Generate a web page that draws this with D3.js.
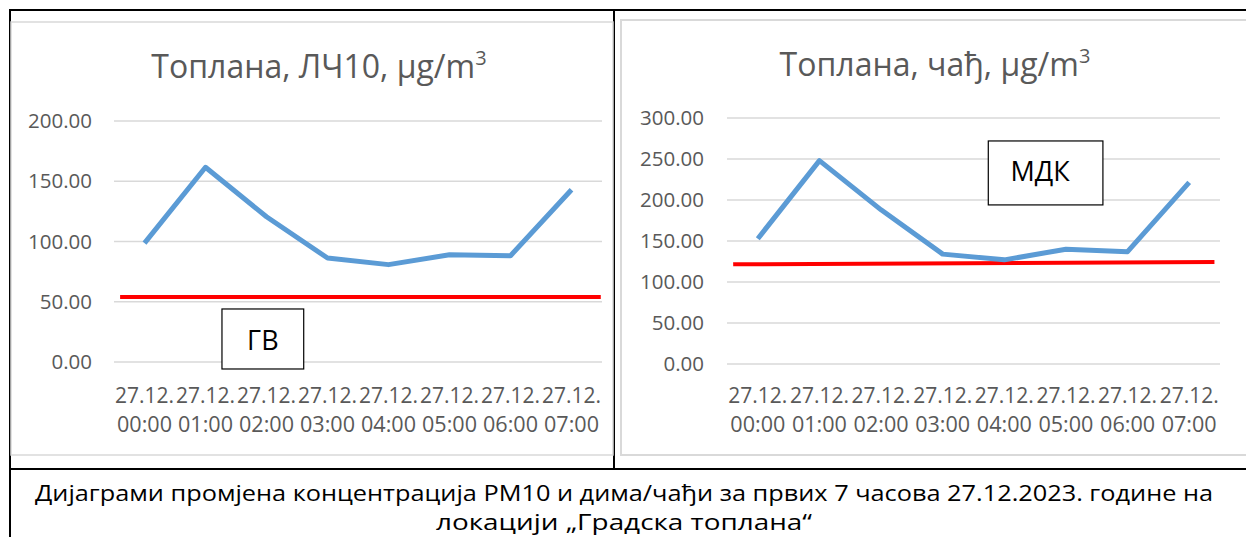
<!DOCTYPE html>
<html><head><meta charset="utf-8">
<script src="https://cdn.jsdelivr.net/npm/d3@7"></script>
<style>
html,body{margin:0;padding:0;background:#fff;}
svg{display:block;font-family:"Open Sans",sans-serif;}
</style></head>
<body>
<svg id="c" width="1246" height="537"></svg>
<script>
// ---- data ----
const categoriesDate = ["27.12.","27.12.","27.12.","27.12.","27.12.","27.12.","27.12.","27.12."];
const categoriesTime = ["00:00","01:00","02:00","03:00","04:00","05:00","06:00","07:00"];
const pm10Values = [98.6, 161.6, 120.5, 86.3, 80.8, 89.0, 88.2, 143.0];
const sootValues = [152.8, 248.0, 188.0, 134.0, 127.0, 140.0, 137.0, 221.5];
const pm10Ticks = [0, 50, 100, 150, 200];
const sootTicks = [0, 50, 100, 150, 200, 250, 300];
const pm10Limit = [54, 54];        // ГВ line, start / end value
const sootLimit = [121.6, 124.4];  // МДК line, start / end value
const titles = ["Топлана, ЛЧ10, µg/m", "Топлана, чађ, µg/m"];
const limitLabels = ["ГВ", "МДК"];
const captionLines = ["Дијаграми промјена концентрација РМ10 и дима/чађи за првих 7 часова 27.12.2023. године на",
                      "локацији „Градска топлана“"];

const svg = d3.select("#c");
const grey = "#595959";

// table borders
const tbl = svg.append("g");
tbl.append("rect").attr("x",10).attr("y",10).attr("width",1250).attr("height",540)
  .attr("fill","none").attr("stroke","#000").attr("stroke-width",2);
tbl.append("line").attr("x1",614).attr("x2",614).attr("y1",10).attr("y2",469).attr("stroke","#000").attr("stroke-width",2);
tbl.append("line").attr("x1",10).attr("x2",1250).attr("y1",469).attr("y2",469).attr("stroke","#000").attr("stroke-width",2);

// chart frames (light grey)
svg.append("rect").attr("x",11).attr("y",22).attr("width",602).attr("height",433)
  .attr("fill","none").attr("stroke","#d9d9d9").attr("stroke-width",1.5);
svg.append("rect").attr("x",621).attr("y",20).attr("width",640).attr("height",435)
  .attr("fill","none").attr("stroke","#d9d9d9").attr("stroke-width",2);

function drawChart(o){
  const g = svg.append("g");
  const x = d3.scaleBand().domain(d3.range(o.values.length)).range([o.x0,o.x1]);
  const xi = d3.scaleLinear().domain([0,1]).range([x(0)+x.bandwidth()/2, x(1)+x.bandwidth()/2]);
  const y = d3.scaleLinear().domain([0,o.ymax]).range([o.yb,o.yt]);
  // gridlines
  g.selectAll(".grid").data(o.ticks).join("line")
    .attr("x1",o.x0).attr("x2",o.x1).attr("y1",d=>y(d)).attr("y2",d=>y(d))
    .attr("stroke","#d9d9d9").attr("stroke-width",1.5);
  // y axis labels
  const ya = d3.axisLeft(y).tickValues(o.ticks).tickFormat(d3.format(".2f")).tickSize(0).tickPadding(0);
  const yg = g.append("g").attr("transform",`translate(${o.ylabX},0)`).call(ya);
  yg.select(".domain").remove();
  yg.selectAll("text").attr("fill",grey).style("font-size","20.5px").style("font-family","'Open Sans',sans-serif");
  // x axis labels
  const xa = g.append("g");
  xa.selectAll(".d").data(categoriesDate).join("text")
    .attr("x",(d,i)=>x(i)+x.bandwidth()/2).attr("y",o.xl1).attr("text-anchor","middle")
    .attr("dominant-baseline","central").attr("fill",grey).style("font-size","21px")
    .attr("textLength",59).attr("lengthAdjust","spacingAndGlyphs").text(d=>d);
  xa.selectAll(".t").data(categoriesTime).join("text")
    .attr("x",(d,i)=>x(i)+x.bandwidth()/2).attr("y",o.xl2).attr("text-anchor","middle")
    .attr("dominant-baseline","central").attr("fill",grey).style("font-size","21px")
    .attr("textLength",55).attr("lengthAdjust","spacingAndGlyphs").text(d=>d);
  // limit line
  g.append("line").attr("x1",xi(-0.4)).attr("x2",xi(o.limitEnd))
    .attr("y1",y(o.limit[0])).attr("y2",y(o.limit[1]))
    .attr("stroke","#ff0000").attr("stroke-width",4);
  // series
  const line = d3.line().x((d,i)=>x(i)+x.bandwidth()/2).y(d=>y(d));
  g.append("path").datum(o.values).attr("d",line).attr("fill","none")
    .attr("stroke","#5b9bd5").attr("stroke-width",5).attr("stroke-linejoin","round");
  // title
  const t = g.append("text").attr("x",o.titleX).attr("y",o.titleY).attr("text-anchor","middle")
    .attr("fill",grey).style("font-size","32px");
  t.append("tspan").text(o.title);
  t.append("tspan").attr("dy",-13).style("font-size","20px").text("3");
  // annotation box
  const b = o.box;
  g.append("rect").attr("x",xi(b.i0)).attr("y",y(b.v0)).attr("width",xi(b.i1)-xi(b.i0)).attr("height",y(b.v1)-y(b.v0))
    .attr("fill","#fff").attr("stroke","#000").attr("stroke-width",1.2);
  g.append("text").attr("x",xi(b.ti)).attr("y",y(b.tv)).attr("dominant-baseline","central")
    .attr("text-anchor",b.anchor).attr("fill","#000").style("font-size","27px").text(b.label);
}

drawChart({values:pm10Values, ticks:pm10Ticks, ymax:200, x0:114, x1:602, yb:362, yt:121, ylabX:92,
  xl1:395, xl2:424, limit:pm10Limit, limitEnd:7.48, title:titles[0], titleX:319, titleY:78,
  box:{i0:1.27, i1:2.61, v0:44, v1:-5.8, ti:1.94, tv:19, anchor:"middle", label:limitLabels[0]}});

drawChart({values:sootValues, ticks:sootTicks, ymax:300, x0:727, x1:1220, yb:364, yt:118, ylabX:704,
  xl1:395, xl2:424, limit:sootLimit, limitEnd:7.41, title:titles[1], titleX:935, titleY:76,
  box:{i0:3.74, i1:5.6, v0:272, v1:194, ti:4.1, tv:236, anchor:"start", label:limitLabels[1]}});

// caption
const capWidths = [1178, 376];
svg.selectAll(".cap").data(captionLines).join("text")
  .attr("x",624).attr("y",(d,i)=>492+i*29.5).attr("text-anchor","middle").attr("dominant-baseline","central")
  .attr("fill","#000").style("font-size","21.5px")
  .attr("textLength",(d,i)=>capWidths[i]).attr("lengthAdjust","spacingAndGlyphs").text(d=>d);
</script>
</body></html>
